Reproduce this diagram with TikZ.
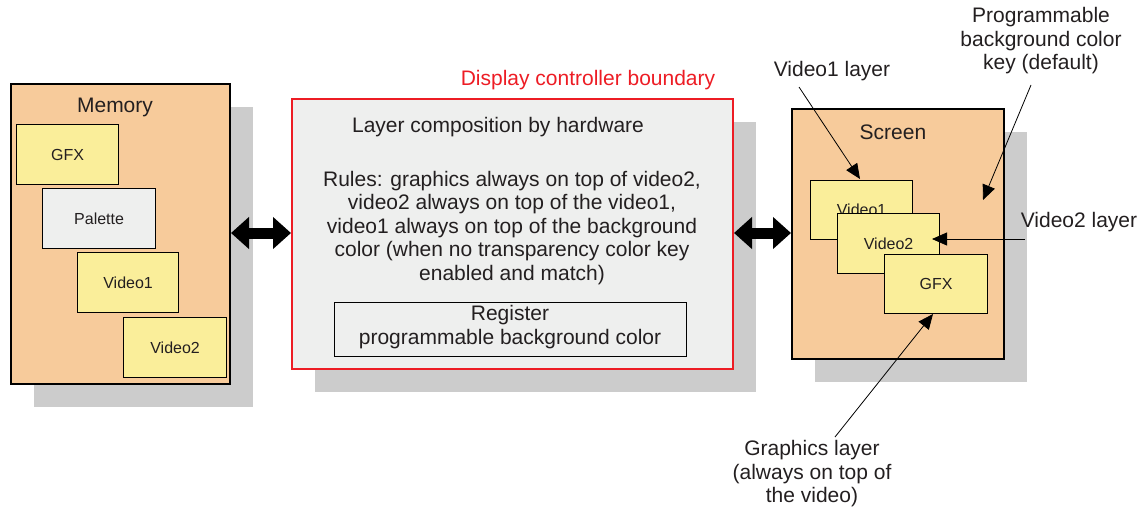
\documentclass[tikz,border=0pt]{standalone}
\usepackage{fontspec}
\setmainfont{Liberation Sans}
\usetikzlibrary{arrows.meta,shadows}
\definecolor{peach}{RGB}{247,203,155}
\definecolor{paleyellow}{RGB}{250,238,154}
\definecolor{lightgray2}{RGB}{238,239,238}
\definecolor{shadowgray}{RGB}{204,204,204}
\definecolor{bordred}{RGB}{237,28,36}
\definecolor{ink}{RGB}{35,31,32}
\begin{document}
\begin{tikzpicture}[x=1pt,y=-1pt,
  big/.style={font=\fontsize{21}{23.5}\selectfont, align=center, inner sep=0pt, text=ink},
  small/.style={font=\fontsize{16}{19}\selectfont, text=ink},
  shadowed/.style={general shadow={fill=shadowgray, shadow xshift=23pt, shadow yshift=-23pt}},
  outerbox/.style={draw=black, line width=2pt, fill=peach, shadowed, anchor=north west, inner sep=0pt},
  ybox/.style={draw=black, line width=1.2pt, fill=paleyellow, anchor=north west, inner sep=0pt, small},
  gbox/.style={draw=black, line width=1.2pt, fill=lightgray2, anchor=north west, inner sep=0pt, small},
  callout/.style={line width=0.8pt, -{Triangle[length=15pt,width=13pt]}},
  bus/.style={line width=11pt, {Triangle[length=18pt,width=31pt]}-{Triangle[length=18pt,width=31pt]}}
]
\useasboundingbox (0,0) rectangle (1144,512);

% Memory
\node[outerbox, minimum width=219pt, minimum height=300pt] (mem) at (10,83) {};
\node[big] (memlbl) at (115,107) {Memory};
\node[ybox, minimum width=102pt, minimum height=60pt] (mgfx) at (16,124) {GFX};
\node[gbox, minimum width=113pt, minimum height=60pt] (mpal) at (42,188) {Palette};
\node[ybox, minimum width=101pt, minimum height=60pt] (mv1) at (77,252) {Video1};
\node[ybox, minimum width=103pt, minimum height=60pt] (mv2) at (123,317) {Video2};

% Display controller
\node[draw=bordred, line width=2pt, fill=lightgray2, shadowed, anchor=north west, inner sep=0pt,
      minimum width=441pt, minimum height=270pt] (ctrl) at (291,98) {};
\node[big, text=bordred] (ctrllbl) at (588,80) {Display controller boundary};
\node[big] (lc) at (498,127) {Layer composition by hardware};
\node[big] (rules) at (512,228) {Rules: graphics always on top of video2,\\video2 always on top of the video1,\\video1 always on top of the background\\color (when no transparency color key\\enabled and match)};
\node[draw=black, line width=1.2pt, anchor=north west, inner sep=0pt, minimum width=352pt, minimum height=54pt] (reg) at (334,302) {};
\node[big] (reglbl) at (510,327) {Register\\programmable background color};

% Screen
\node[outerbox, minimum width=212pt, minimum height=250pt] (scr) at (791,108) {};
\node[big] (scrlbl) at (893,132) {Screen};
\node[ybox, minimum width=102pt, minimum height=59pt] (sv1) at (810,180) {Video1};
\node[ybox, minimum width=102pt, minimum height=60pt] (sv2) at (837,213) {Video2};
\node[ybox, minimum width=103pt, minimum height=59pt] (sgfx) at (884,254) {GFX};

% Buses
\draw[bus] (mem.east |- 0,233) coordinate (b1a) -- (ctrl.west |- 0,233) coordinate (b1b);
\draw[bus] (ctrl.east |- 0,233) coordinate (b2a) -- (scr.west |- 0,233) coordinate (b2b);

% Callouts
\node[big] (pbk) at (1041,41) {Programmable\\background color\\key (default)};
\node[big] (v1l) at (832,71) {Video1 layer};
\node[big] (v2l) at (1079,222) {Video2 layer};
\node[big] (gl) at (812,474) {Graphics layer\\(always on top of\\the video)};

\coordinate (pbkS) at (1031,85);
\coordinate (pbkE) at (983,200);
\coordinate (v1S) at (799,87);
\coordinate (v1E) at (860,179);
\coordinate (v2S) at (1025,239);
\coordinate (v2E) at (932,239);
\coordinate (glS) at (835,437);
\coordinate (glE) at (933,314);

\draw[callout] (pbkS) -- (pbkE);
\draw[callout] (v1S) -- (v1E);
\draw[callout] (v2S) -- (v2E);
\draw[callout] (glS) -- (glE);
\end{tikzpicture}
\end{document}
